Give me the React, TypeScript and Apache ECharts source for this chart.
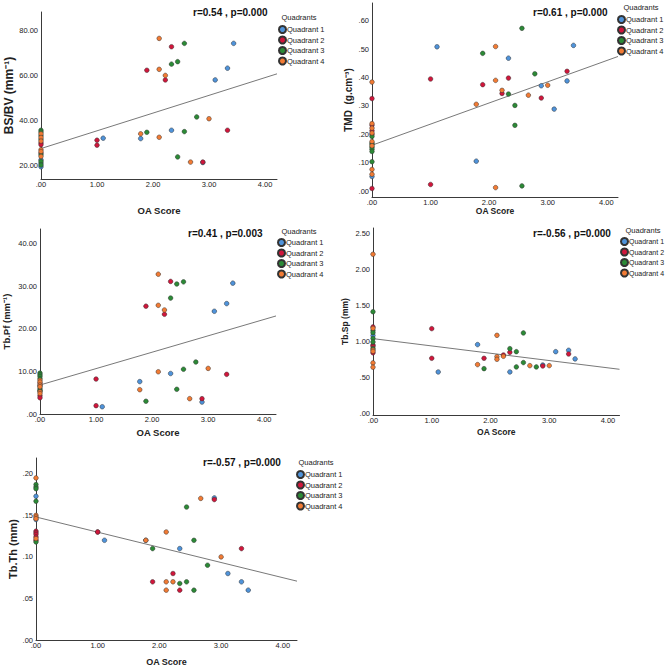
import React, { useEffect, useRef } from "react";
import * as echarts from "echarts";

// ---------- data ----------
const quadrantNames = ["Quadrant 1", "Quadrant 2", "Quadrant 3", "Quadrant 4"];
const quadrantColors = ["#4f93da", "#d0163b", "#2b8a36", "#f27b34"];

// OA scores of the subjects with a non-zero score, per quadrant
const q1Scores = [1.11, 1.78, 2.33, 2.89, 3.11, 3.33, 3.44];
const q2Scores = [1.0, 1.0, 1.89, 2.22, 2.33, 2.89, 3.33];
const q3Scores = [1.89, 2.33, 2.44, 2.44, 2.56, 2.56, 2.78];
const q4Scores = [1.78, 2.11, 2.11, 2.11, 2.22, 2.67, 3.0];

// BS/BV (mm-1)
const bsbvQ1 = [32.1, 31.9, 35.6, 21.3, 57.9, 63.1, 74.1];
const bsbvQ2 = [31.2, 29.0, 62.2, 57.9, 72.6, 21.5, 35.6];
const bsbvQ3 = [34.7, 64.9, 66.0, 23.8, 74.1, 35.0, 41.5];
const bsbvQ4 = [34.0, 76.3, 62.6, 32.5, 59.9, 21.5, 40.7];
const bsbvZeroQ1 = [22.5, 21.0, 19.4];
const bsbvZeroQ2 = [30.0, 29.2, 25.5];
const bsbvZeroQ3 = [35.6, 34.8, 33.2, 31.6, 24.8, 21.8, 20.2];
const bsbvZeroQ4 = [34.0, 32.4, 30.8, 27.0, 26.2, 24.0];

// TMD (g.cm-3)
const tmdQ1 = [0.508, 0.106, 0.468, 0.371, 0.289, 0.388, 0.513];
const tmdQ2 = [0.395, 0.024, 0.375, 0.344, 0.398, 0.328, 0.422];
const tmdQ3 = [0.485, 0.342, 0.302, 0.232, 0.573, 0.019, 0.413];
const tmdQ4 = [0.306, 0.509, 0.39, 0.013, 0.355, 0.338, 0.373];
const tmdZeroQ1 = [0.052];
const tmdZeroQ2 = [0.326, 0.232, 0.213, 0.2, 0.01];
const tmdZeroQ3 = [0.193, 0.17, 0.165, 0.155, 0.148, 0.14, 0.104];
const tmdZeroQ4 = [0.384, 0.238, 0.222, 0.205, 0.175, 0.16, 0.077, 0.06];

// Tb.Pf (mm-1)
const tbpfQ1 = [1.7, 7.6, 9.5, 2.8, 24.1, 25.9, 30.7];
const tbpfQ2 = [8.2, 1.95, 25.3, 23.4, 31.1, 3.6, 9.3];
const tbpfQ3 = [3.0, 27.2, 30.5, 5.8, 31.0, 10.5, 12.2];
const tbpfQ4 = [5.7, 32.8, 25.5, 9.9, 24.4, 3.6, 10.7];
const tbpfZeroQ1 = [6.6];
const tbpfZeroQ2 = [7.2, 4.3, 3.8];
const tbpfZeroQ3 = [9.6, 9.2, 8.8, 8.3, 6.0, 5.6, 5.4];
const tbpfZeroQ4 = [7.9, 7.5, 6.8, 6.4, 5.2, 4.8];

// Tb.Sp (mm)
const tbspQ1 = [0.574, 0.954, 0.574, 0.671, 0.856, 0.875, 0.755];
const tbspQ2 = [1.176, 0.764, 0.764, 0.81, 0.847, 0.657, 0.824];
const tbspQ3 = [0.62, 0.898, 0.856, 0.644, 1.116, 0.704, 0.644];
const tbspQ4 = [0.676, 1.083, 0.787, 0.75, 0.792, 0.662, 0.662];
const tbspZeroQ1 = [1.08];
const tbspZeroQ2 = [1.2, 0.95, 0.93, 0.84];
const tbspZeroQ3 = [1.41, 1.15, 1.12, 1.04, 0.99, 0.9];
const tbspZeroQ4 = [2.21, 1.18, 0.88, 0.86, 0.7, 0.64];

// Tb.Th (mm)
const tbthQ1 = [0.12, 0.12, 0.11, 0.171, 0.08, 0.07, 0.06];
const tbthQ2 = [0.13, 0.13, 0.07, 0.08, 0.06, 0.169, 0.11];
const tbthQ3 = [0.11, 0.068, 0.16, 0.07, 0.12, 0.06, 0.09];
const tbthQ4 = [0.12, 0.13, 0.07, 0.06, 0.07, 0.1704, 0.1];
const tbthZeroQ1 = [0.173, 0.145];
const tbthZeroQ2 = [0.131, 0.129, 0.127, 0.124, 0.12];
const tbthZeroQ3 = [0.187, 0.184, 0.182, 0.167, 0.118];
const tbthZeroQ4 = [0.195, 0.15, 0.148, 0.146, 0.122];

// fit lines: value at OA score 0 and at the end of the axis
const fitStart = [27.5, 0.162, 6.8, 1.037, 0.148];
const fitEnd = [60.6, 0.474, 23.0, 0.611, 0.0708];

const xTicks = [0, 1, 2, 3, 4];
const bsbvTicks = [20, 40, 60, 80];
const tmdTicks = [0, 0.1, 0.2, 0.3, 0.4, 0.5, 0.6];
const tbpfTicks = [0, 10, 20, 30, 40];
const tbspTicks = [0, 0.5, 1, 1.5, 2, 2.5];
const tbthTicks = [0, 0.05, 0.1, 0.15, 0.2];

const stats = ["r=0.54 , p=0.000", "r=0.61 , p=0.000", "r=0.41 , p=0.003", "r=-0.56 , p=0.000", "r=-0.57 , p=0.000"];
const yTitles = ["BS/BV (mm\u207B\u00B9)", "TMD  (g.cm\u207B\u00B3)", "Tb.Pf (mm\u207B\u00B9)", "Tb.Sp (mm)", "Tb.Th (mm)"];
const xTitle = "OA Score";
const legendTitle = "Quadrants";

const scores = [q1Scores, q2Scores, q3Scores, q4Scores];
const values = [
  [bsbvQ1, bsbvQ2, bsbvQ3, bsbvQ4],
  [tmdQ1, tmdQ2, tmdQ3, tmdQ4],
  [tbpfQ1, tbpfQ2, tbpfQ3, tbpfQ4],
  [tbspQ1, tbspQ2, tbspQ3, tbspQ4],
  [tbthQ1, tbthQ2, tbthQ3, tbthQ4],
];
const zeroValues = [
  [bsbvZeroQ1, bsbvZeroQ2, bsbvZeroQ3, bsbvZeroQ4],
  [tmdZeroQ1, tmdZeroQ2, tmdZeroQ3, tmdZeroQ4],
  [tbpfZeroQ1, tbpfZeroQ2, tbpfZeroQ3, tbpfZeroQ4],
  [tbspZeroQ1, tbspZeroQ2, tbspZeroQ3, tbspZeroQ4],
  [tbthZeroQ1, tbthZeroQ2, tbthZeroQ3, tbthZeroQ4],
];
const yTickSets = [bsbvTicks, tmdTicks, tbpfTicks, tbspTicks, tbthTicks];

// ---------- layout ----------
const FONT = "'Liberation Sans', Arial, sans-serif";
const layout = [
  { grid: { left: 41, top: 12, width: 236, height: 167 }, xMax: 4.214, yMin: 14, yMax: 88, yNameSize: 12, yNameGap: 25, xNameSize: 9.5, xNameGap: 26, stat: [193, 13], legend: [278, 25], legendFont: 7.5, legendTitle: [299, 17] },
  { grid: { left: 372, top: 3, width: 246, height: 194 }, xMax: 4.2, yMin: -0.02, yMax: 0.662, yNameSize: 10, yNameGap: 19, xNameSize: 8.5, xNameGap: 9, stat: [533, 13], legend: [617, 15], legendFont: 7.5, legendTitle: [641, 7] },
  { grid: { left: 39, top: 229, width: 237, height: 185 }, xMax: 4.21, yMin: 0, yMax: 43.4, yNameSize: 9.5, yNameGap: 29, xNameSize: 9.5, xNameGap: 13, stat: [188, 234], legend: [277, 238], legendFont: 7.5, legendTitle: [299, 231] },
  { grid: { left: 373, top: 228, width: 246.5, height: 187 }, xMax: 4.196, yMin: -0.024, yMax: 2.574, yNameSize: 8.5, yNameGap: 24, xNameSize: 8.5, xNameGap: 12.5, stat: [533, 234], legend: [620, 237], legendFont: 7, legendTitle: [643, 230] },
  { grid: { left: 36, top: 458, width: 261, height: 182 }, xMax: 4.23, yMin: 0, yMax: 0.219, yNameSize: 11, yNameGap: 17, xNameSize: 9, xNameGap: 17, stat: [203, 463], legend: [296, 470], legendFont: 7.5, legendTitle: [316, 462] },
];

const fmt = (v: number) => {
  const s = v.toFixed(2);
  return s.startsWith("0") ? s.slice(1) : s;
};

function buildOption() {
  const grids: any[] = [];
  const xAxes: any[] = [];
  const yAxes: any[] = [];
  const series: any[] = [];
  const legends: any[] = [];
  const graphics: any[] = [];

  layout.forEach((L, p) => {
    grids.push({ ...L.grid, containLabel: false });
    const axisLine = { show: true, onZero: false, lineStyle: { color: "#3a3a3a", width: 1 } };
    xAxes.push({
      gridIndex: p, type: "value", min: 0, max: L.xMax,
      axisLine, axisTick: { show: false }, splitLine: { show: false },
      axisLabel: { customValues: xTicks, formatter: fmt, fontSize: 7.5, color: "#222", margin: 1, fontFamily: FONT },
      name: xTitle, nameLocation: "middle", nameGap: L.xNameGap,
      nameTextStyle: { fontSize: L.xNameSize, fontWeight: "bold", color: "#222", fontFamily: FONT },
    });
    yAxes.push({
      gridIndex: p, type: "value", min: L.yMin, max: L.yMax,
      axisLine, axisTick: { show: false }, splitLine: { show: false },
      axisLabel: { customValues: yTickSets[p], formatter: fmt, fontSize: 7.5, color: "#222", margin: 3, fontFamily: FONT },
      name: yTitles[p], nameLocation: "middle", nameGap: L.yNameGap,
      nameTextStyle: { fontSize: L.yNameSize, fontWeight: "bold", color: "#222", fontFamily: FONT },
    });
    series.push({
      type: "line", xAxisIndex: p, yAxisIndex: p, silent: true, symbol: "none",
      data: [[0, fitStart[p]], [L.xMax, fitEnd[p]]],
      lineStyle: { color: "#555", width: 0.8 }, z: 1,
    });
    for (let q = 0; q < 4; q++) {
      const pts = scores[q].map((x, i) => [x, values[p][q][i]]);
      const zeros = zeroValues[p][q].map((y) => [0, y]);
      series.push({
        type: "scatter", name: quadrantNames[q], xAxisIndex: p, yAxisIndex: p,
        data: zeros.concat(pts), symbolSize: 4.6,
        itemStyle: { color: quadrantColors[q], borderColor: "#333", borderWidth: 0.5, opacity: 1 },
        z: 3,
      });
    }
    legends.push({
      left: L.legend[0], top: L.legend[1], orient: "vertical", padding: 0,
      itemWidth: 7, itemHeight: 7, itemGap: 1.5, icon: "circle", selectedMode: false,
      data: quadrantNames,
      textStyle: { fontSize: L.legendFont, color: "#222", fontFamily: FONT, lineHeight: 8, padding: [0, 0, 0, -4] },
    });
    graphics.push({
      type: "text", left: L.stat[0], top: L.stat[1] - 6,
      style: { text: stats[p], fontSize: 10, fontWeight: "bold", fill: "#111", fontFamily: FONT },
    });
    graphics.push({
      type: "text", x: L.legendTitle[0], y: L.legendTitle[1],
      style: { text: legendTitle, fontSize: 7.5, fill: "#222", fontFamily: FONT, align: "center", verticalAlign: "middle" },
    });
  });

  return {
    animation: false,
    backgroundColor: "#ffffff",
    grid: grids,
    xAxis: xAxes,
    yAxis: yAxes,
    series,
    legend: legends,
    graphic: graphics,
  };
}

export default function App() {
  const ref = useRef<HTMLDivElement>(null);
  useEffect(() => {
    if (!ref.current) return;
    const chart = echarts.init(ref.current, undefined, { renderer: "svg" });
    chart.setOption(buildOption() as any);
    return () => chart.dispose();
  }, []);
  return <div ref={ref} style={{ position: "fixed", left: 0, top: 0, width: 667, height: 667, background: "#fff" }} />;
}
